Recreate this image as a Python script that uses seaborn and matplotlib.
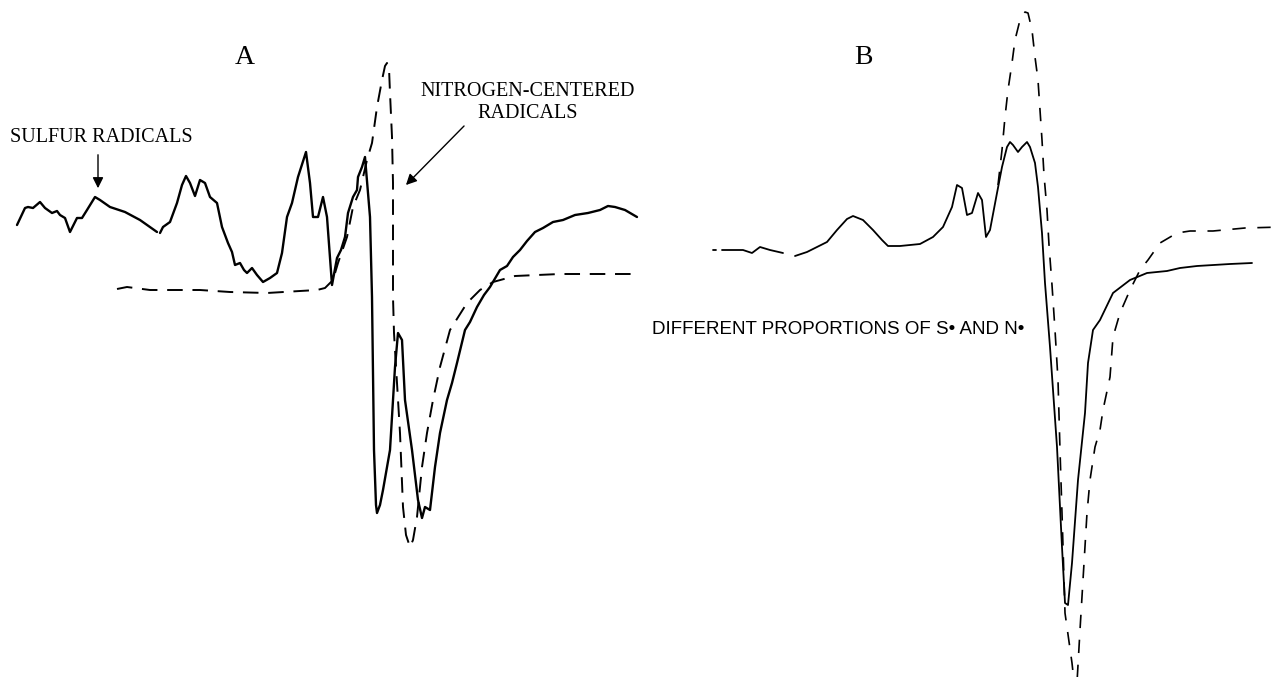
import numpy as np
import pandas as pd
import matplotlib
matplotlib.use('Agg')
import matplotlib.pyplot as plt
import seaborn as sns

# Traces (field position, signal level on the page).
# NaN marks a break in the pen trace.
field_a_obs = [17, 25, 28, 33, 40, 45, 52, 57, 60, 65, 70, 77, 82, 87, 95, 100,
               110, 125, 140, 157, np.nan, 160, 163, 170, 177, 182, 186, 190,
               195, 200, 205, 210, 217, 222, 228, 232, 235, 240, 244, 247, 252,
               257, 263, 270, 277, 282, 287, 292, 298, 306, 310, 313, 318, 323,
               327, 332, 337, 341, 345, 348, 353, 357, 358, 362, 365, 370, 372,
               374, 376, 377, 380, 383, 390, 395, 398, 402, 405, 412, 418, 422,
               425, 430, 435, 440, 447, 452, 457, 465, 470, 477, 484, 490, 500,
               507, 513, 520, 527, 535, 543, 553, 563, 575, 588, 600, 608, 615,
               625, 637]
signal_a_obs = [225, 208, 207, 208, 202, 208, 213, 211, 215, 218, 232, 218, 218,
                210, 197, 200, 207, 212, 220, 232, np.nan, 233, 227, 222, 203,
                185, 176, 183, 196, 180, 183, 197, 203, 227, 243, 252, 265, 263,
                270, 273, 268, 275, 282, 278, 273, 253, 217, 203, 177, 152, 183,
                217, 217, 197, 217, 285, 258, 250, 237, 213, 197, 190, 177, 167,
                157, 217, 297, 450, 505, 513, 505, 490, 450, 367, 333, 340, 400,
                450, 500, 518, 507, 510, 467, 433, 400, 383, 363, 330, 322, 307,
                295, 287, 270, 266, 257, 250, 241, 232, 228, 222, 220, 215, 213,
                210, 206, 207, 210, 217]

field_a_n = [117, 127, 150, 200, 230, 267, 300, 317, 325, 333, 338, 347, 353,
             360, 367, 372, 377, 382, 385, 387, 389, 390, 392, 393, 393, 393,
             394, 400, 403, 406, 410, 413, 417, 422, 427, 433, 440, 450, 467,
             480, 493, 515, 560, 600, 638]
signal_a_n = [289, 287, 290, 290, 292, 293, 291, 290, 288, 280, 263, 237, 207,
              190, 160, 143, 107, 80, 66, 63, 68, 93, 137, 183, 233, 297, 333,
              433, 507, 535, 547, 540, 517, 467, 433, 400, 367, 330, 303, 290,
              282, 276, 274, 274, 274]

field_b_obs = [713, 716, np.nan, 722, 743, 752, 760, 770, 783, np.nan, 795, 807,
               817, 827, 837, 847, 853, 863, 873, 882, 888, 900, 920, 933, 943,
               952, 957, 962, 967, 972, 978, 982, 986, 990, 997, 1002, 1007,
               1010, 1013, 1018, 1022, 1027, 1030, 1035, 1038, 1042, 1045, 1050,
               1057, 1062, 1065, 1068, 1072, 1078, 1085, 1088, 1093, 1100, 1113,
               1130, 1147, 1167, 1180, 1197, 1230, 1252]
signal_b_obs = [250, 250, np.nan, 250, 250, 253, 247, 250, 253, np.nan, 256,
                252, 247, 242, 230, 219, 216, 220, 230, 240, 246, 246, 244, 237,
                227, 207, 185, 188, 215, 213, 193, 200, 237, 230, 193, 167, 147,
                142, 145, 152, 147, 142, 147, 163, 187, 233, 283, 347, 447, 547,
                603, 605, 563, 480, 413, 363, 330, 320, 293, 280, 273, 271, 268,
                266, 264, 263]

field_b_n = [998, 1002, 1005, 1008, 1012, 1015, 1020, 1025, 1028, 1032, 1035,
             1038, 1040, 1042, 1044, 1047, 1049, 1052, 1055, 1058, 1060, 1062,
             1065, 1072, 1076, 1080, 1083, 1087, 1090, 1095, 1100, 1103, 1110,
             1113, 1120, 1130, 1140, 1148, 1160, 1177, 1190, 1213, 1245, 1282]
signal_b_n = [185, 150, 117, 90, 63, 40, 20, 12, 13, 30, 57, 80, 110, 140, 175,
              210, 245, 285, 330, 380, 450, 513, 613, 663, 700, 630, 580, 513,
              480, 447, 430, 410, 377, 337, 313, 290, 270, 260, 243, 233, 231,
              231, 228, 227]


def to_frame(field, signal):
    df = pd.DataFrame({'field': field, 'signal': signal})
    # split the trace wherever the pen lifted
    df['seg'] = df['field'].isna().cumsum()
    return df.dropna()


def draw_trace(ax, df, lw, dashes=None):
    n_before = len(ax.get_lines())
    sns.lineplot(data=df, x='field', y='signal', units='seg', estimator=None,
                 sort=False, color='black', lw=lw, ax=ax, legend=False)
    if dashes is not None:
        for ln in ax.get_lines()[n_before:]:
            ln.set_dashes(dashes)


sns.set_style('white')
serif = ['Liberation Serif', 'DejaVu Serif']
sans = ['Liberation Sans', 'DejaVu Sans']

fig = plt.figure(figsize=(12.82, 6.77), dpi=100)
ax = fig.add_axes([0, 0, 1, 1])

draw_trace(ax, to_frame(field_a_obs, signal_a_obs), lw=1.7)
draw_trace(ax, to_frame(field_a_n, signal_a_n), lw=1.4, dashes=(8, 5))
draw_trace(ax, to_frame(field_b_obs, signal_b_obs), lw=1.3)
draw_trace(ax, to_frame(field_b_n, signal_b_n), lw=1.2, dashes=(8, 7))

ax.set_xlim(0, 1282)
ax.set_ylim(677, 0)
ax.axis('off')

# Panel letters and labels
ax.text(245, 58, 'A', family=serif, fontsize=20, color='black',
        ha='center', va='center')
ax.text(863, 58, 'B', family=serif, fontsize=20, color='black',
        ha='center', va='center')

ax.text(10, 138, 'SULFUR RADICALS', family=serif, fontsize=14.5,
        color='black', ha='left', va='center')
ax.annotate('', xy=(98, 191), xytext=(98, 152),
            arrowprops=dict(arrowstyle='-|>', color='black', lw=1.0,
                            mutation_scale=16))

ax.text(528, 92, 'NITROGEN-CENTERED', family=serif, fontsize=14.5,
        color='black', ha='center', va='center')
ax.text(528, 113, 'RADICALS', family=serif, fontsize=14.5,
        color='black', ha='center', va='center')
ax.annotate('', xy=(404, 187), xytext=(466, 124),
            arrowprops=dict(arrowstyle='-|>', color='black', lw=1.0,
                            mutation_scale=16))

ax.text(652, 330, 'DIFFERENT PROPORTIONS OF S\u2022 AND N\u2022', family=sans,
        fontsize=13.5, color='black', ha='left', va='center')

plt.savefig('out.png', dpi=100)
